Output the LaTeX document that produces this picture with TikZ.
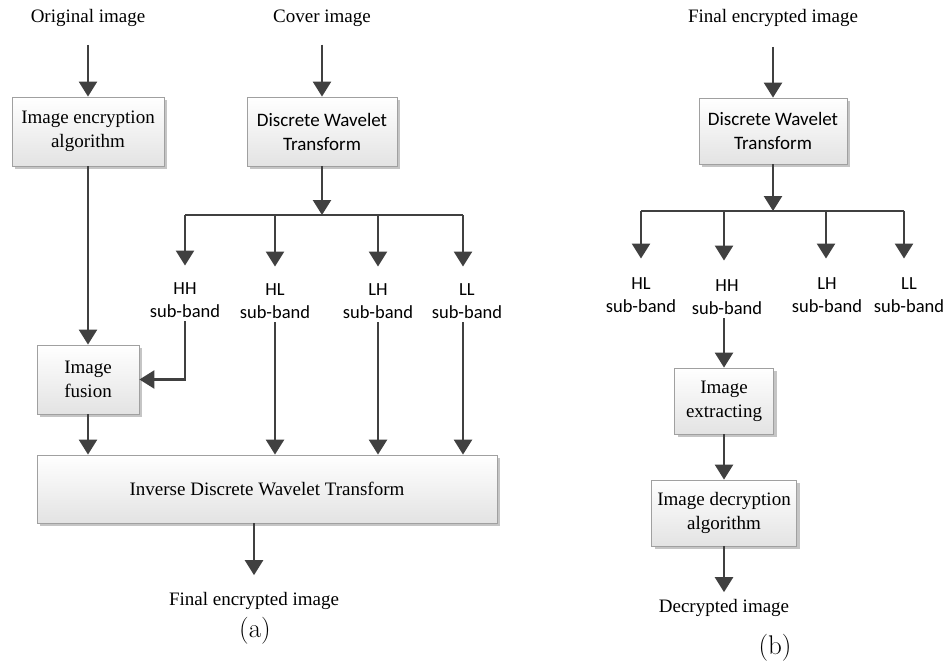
\documentclass[tikz,border=0pt]{standalone}
\usepackage{fontspec}
\newfontfamily\serifA{Liberation Serif}
\newfontfamily\sansA{Carlito}
\usetikzlibrary{arrows.meta,shadows}
\definecolor{arrowc}{HTML}{404040}
\definecolor{boxline}{HTML}{A0A0A0}
\begin{document}
\begin{tikzpicture}[x=1pt,y=-1pt,
  box/.style={draw=boxline, line width=0.8pt, top color=white, bottom color=black!11,
    drop shadow={shadow xshift=3pt, shadow yshift=-3pt, fill=black!45, opacity=0.5},
    align=center, inner sep=0pt, font=\serifA\fontsize{19}{24}\selectfont},
  sbox/.style={box, font=\sansA\fontsize{19}{24}\selectfont},
  txt/.style={inner sep=0pt, font=\serifA\fontsize{19}{23}\selectfont},
  band/.style={inner sep=0pt, align=center, font=\sansA\fontsize{18.5}{22.5}\selectfont},
  captext/.style={inner sep=0pt, font=\fontsize{27}{30}\selectfont},
  wire/.style={draw=arrowc, line width=2.5pt},
  arr/.style={wire, -{Triangle[width=18pt,length=15pt]}}
]
\useasboundingbox (0,0) rectangle (947,662);

% ---------------- (a) ----------------
\node[txt] (origA) at (88,18) {Original image};
\node[txt] (coverA) at (322,18) {Cover image};
\node[box, minimum width=152pt, minimum height=69pt] (enc) at (88,131.5) {Image encryption\\algorithm};
\node[sbox, minimum width=150pt, minimum height=69pt] (dwtA) at (322,131.5) {Discrete Wavelet\\Transform};
\node[box, minimum width=102pt, minimum height=69pt] (fus) at (88,379.5) {Image\\fusion};
\node[box, minimum width=460pt, minimum height=68pt] (idwt) at (267,489) {Inverse Discrete Wavelet Transform};
\node[txt] (finalA) at (254,601) {Final encrypted image};
\node[captext] (capA) at (255,631) {(a)};

\node[band] (hh) at (185,300) {HH\\sub-band};
\node[band] (hl) at (275,301) {HL\\sub-band};
\node[band] (lh) at (378,301) {LH\\sub-band};
\node[band] (ll) at (467,301) {LL\\sub-band};

\coordinate (barA) at (322,215);
\coordinate (bHH) at (185,215);
\coordinate (bHL) at (275,215);
\coordinate (bLH) at (378,215);
\coordinate (bLL) at (463,215);

\draw[arr, shorten <=18pt] (origA.south) -- (enc.north);
\draw[arr, shorten <=18pt] (coverA.south) -- (dwtA.north);
\draw[arr] (enc.south) -- (fus.north);
\draw[arr] (dwtA.south) -- (barA);
\draw[wire] (bHH) -- (bLL);
\draw[arr, shorten >=17pt] (bHH) -- (bHH |- hh.north);
\draw[arr, shorten >=17pt] (bHL) -- (bHL |- hl.north);
\draw[arr, shorten >=17pt] (bLH) -- (bLH |- lh.north);
\draw[arr, shorten >=17pt] (bLL) -- (bLL |- ll.north);
\draw[arr, shorten <=4pt] (hh.south) |- (fus.east);
\draw[arr, shorten <=4pt] (hl.south) -- (hl.south |- idwt.north);
\draw[arr, shorten <=4pt] (lh.south) -- (lh.south |- idwt.north);
\draw[arr, shorten <=4pt] (bLL |- ll.south) -- (bLL |- idwt.north);
\draw[arr] (fus.south) -- (fus.south |- idwt.north);
\draw[arr, shorten >=17pt] (idwt.south -| finalA.north) -- (finalA.north);

% ---------------- (b) ----------------
\node[txt] (finalB) at (773,18) {Final encrypted image};
\node[sbox, minimum width=148pt, minimum height=66pt] (dwtB) at (773,131) {Discrete Wavelet\\Transform};
\node[box, minimum width=99pt, minimum height=66pt] (ext) at (724,401) {Image\\extracting};
\node[box, minimum width=145pt, minimum height=66pt] (dec) at (724,513) {Image decryption\\algorithm};
\node[txt] (decr) at (724,608) {Decrypted image};
\node[captext] (capB) at (775,648) {(b)};

\node[band] (hlb) at (641,295) {HL\\sub-band};
\node[band] (hhb) at (727,297) {HH\\sub-band};
\node[band] (lhb) at (827,295) {LH\\sub-band};
\node[band] (llb) at (909,295) {LL\\sub-band};

\coordinate (barB) at (773,211);
\coordinate (bHLb) at (641,211);
\coordinate (bHHb) at (724,211);
\coordinate (bLHb) at (826,211);
\coordinate (bLLb) at (904,211);

\draw[arr, shorten <=20pt] (finalB.south) -- (dwtB.north);
\draw[arr] (dwtB.south) -- (barB);
\draw[wire] (bHLb) -- (bLLb);
\draw[arr, shorten >=19pt] (bHLb) -- (bHLb |- hlb.north);
\draw[arr, shorten >=19pt] (bHHb) -- (bHHb |- hhb.north);
\draw[arr, shorten >=19pt] (bLHb) -- (bLHb |- lhb.north);
\draw[arr, shorten >=19pt] (bLLb) -- (bLLb |- llb.north);
\draw[arr, shorten <=4pt] (bHHb |- hhb.south) -- (ext.north);
\draw[arr] (ext.south) -- (dec.north);
\draw[arr, shorten >=7pt] (dec.south) -- (dec.south |- decr.north);
\end{tikzpicture}
\end{document}
